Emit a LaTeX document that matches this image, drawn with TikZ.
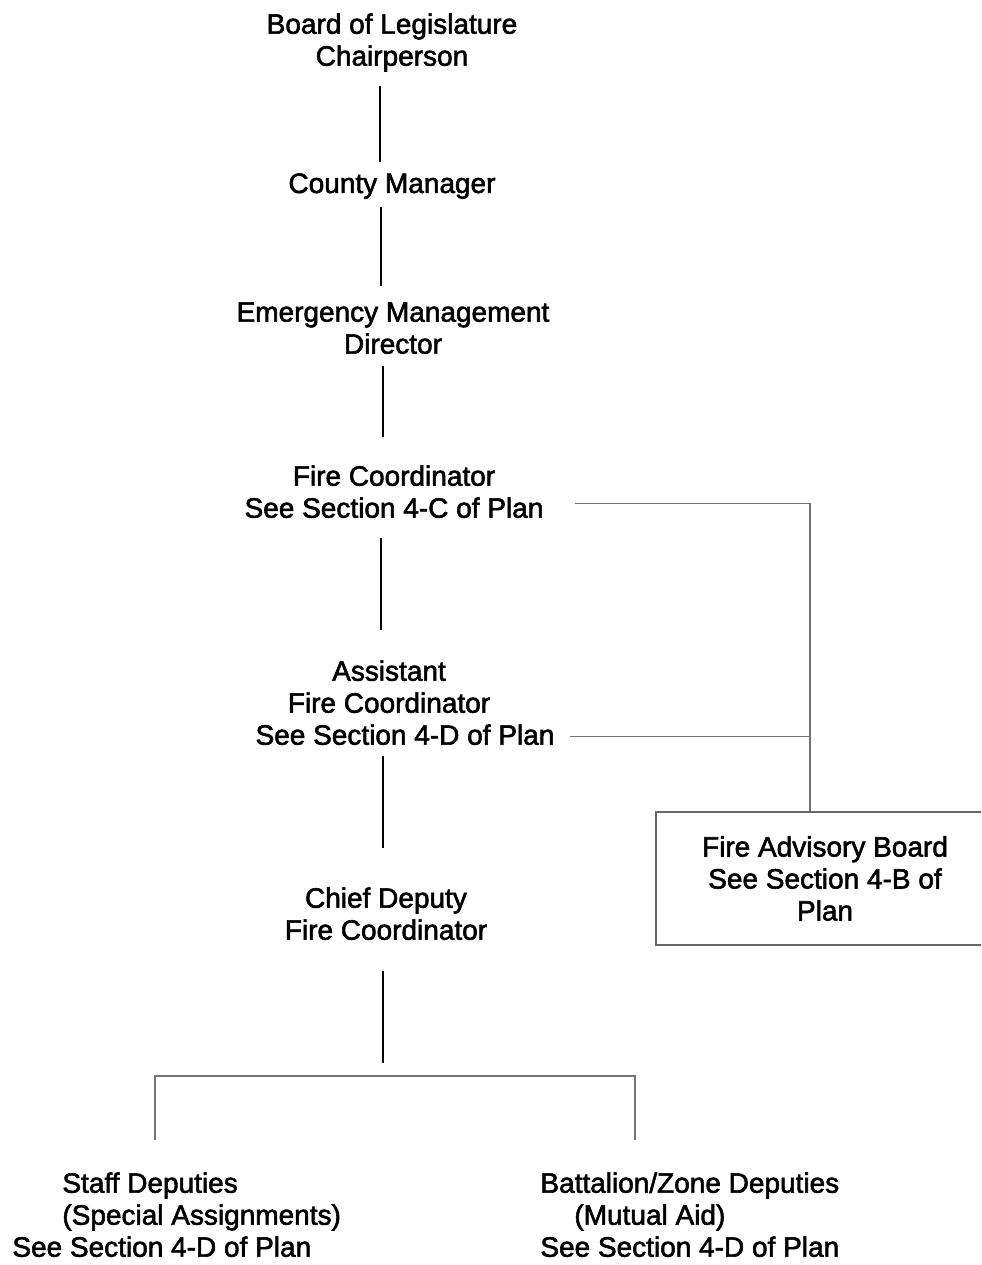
\documentclass[tikz,border=0pt]{standalone}
\usepackage{fontspec}
\setmainfont{Liberation Sans}[BoldFont={Liberation Sans},BoldFeatures={FakeBold=2}]
\begin{document}
\begin{tikzpicture}[x=0.5pt,y=-0.5pt,
		every node/.style={inner sep=0pt,font=\fontsize{14}{16}\selectfont\bfseries},
		post/.style={anchor=north,align=center},
		spine/.style={line width=1pt},
		link/.style={line width=0.8pt,black!55}]
		\clip (0,0) rectangle (981,1265);
		% chain of command
		\node[post] (board) at (392,13) {Board of Legislature\\Chairperson};
		\node[post] (county) at (392,173) {County Manager};
		\node[post] (emd) at (393,302) {Emergency Management\\Director};
		\node[post] (fc) at (394,465) {Fire Coordinator\\See Section 4-C of Plan};
		\node[post] (afc) at (389,660) {Assistant\\Fire Coordinator\\\hspace*{16pt}See Section 4-D of Plan};
		\node[post] (chief) at (386,887) {Chief Deputy\\Fire Coordinator};
		\node[draw=black!60,line width=0.8pt,minimum width=169pt,minimum height=66.5pt,align=center] (fab) at (825,878.5) {Fire Advisory Board\\See Section 4-B of\\Plan};
		\node[anchor=north west,align=left] (staff) at (12,1172) {\hspace*{25pt}Staff Deputies\\\hspace*{25pt}(Special Assignments)\\See Section 4-D of Plan};
		\node[anchor=north west,align=left] (batt) at (540,1172) {Battalion/Zone Deputies\\\hspace*{17pt}(Mutual Aid)\\See Section 4-D of Plan};
		\coordinate (fork) at (383,1076);
		\coordinate (join) at ([xshift=-7.5pt]fab.north);
		% vertical lines
		\draw[spine,shorten <=6.9pt,shorten >=5.5pt] ([xshift=-6pt]board.south) -- ([xshift=-6pt]board.south |- county.north);
		\draw[spine,shorten <=3.9pt,shorten >=8pt] ([xshift=-5.5pt]county.south) -- ([xshift=-5.5pt]county.south |- emd.north);
		\draw[spine,shorten <=5.8pt,shorten >=14pt] ([xshift=-5pt]emd.south) -- ([xshift=-5pt]emd.south |- fc.north);
		\draw[spine,shorten <=9.8pt,shorten >=15pt] ([xshift=-6.5pt]fc.south) -- ([xshift=-6.5pt]fc.south |- afc.north);
		\draw[spine,shorten <=5.3pt,shorten >=19.5pt] ([xshift=-3pt]afc.south) -- ([xshift=-3pt]afc.south |- chief.north);
		\draw[spine,shorten <=15.3pt,shorten >=6.5pt] (chief.south -| fork) -- (fork);
		% advisory board
		\draw[link] ([shift={(15.8pt,-5.9pt)}]fc.east) -| (join);
		\draw[link] ([shift={(7.8pt,-16.9pt)}]afc.east) coordinate (a) -- (a -| join);
		% deputies
		\draw[link] ([shift={(71.5pt,16pt)}]staff.north west) |- (fork) -| ([shift={(47.5pt,16pt)}]batt.north west);
	\end{tikzpicture}
\end{document}
